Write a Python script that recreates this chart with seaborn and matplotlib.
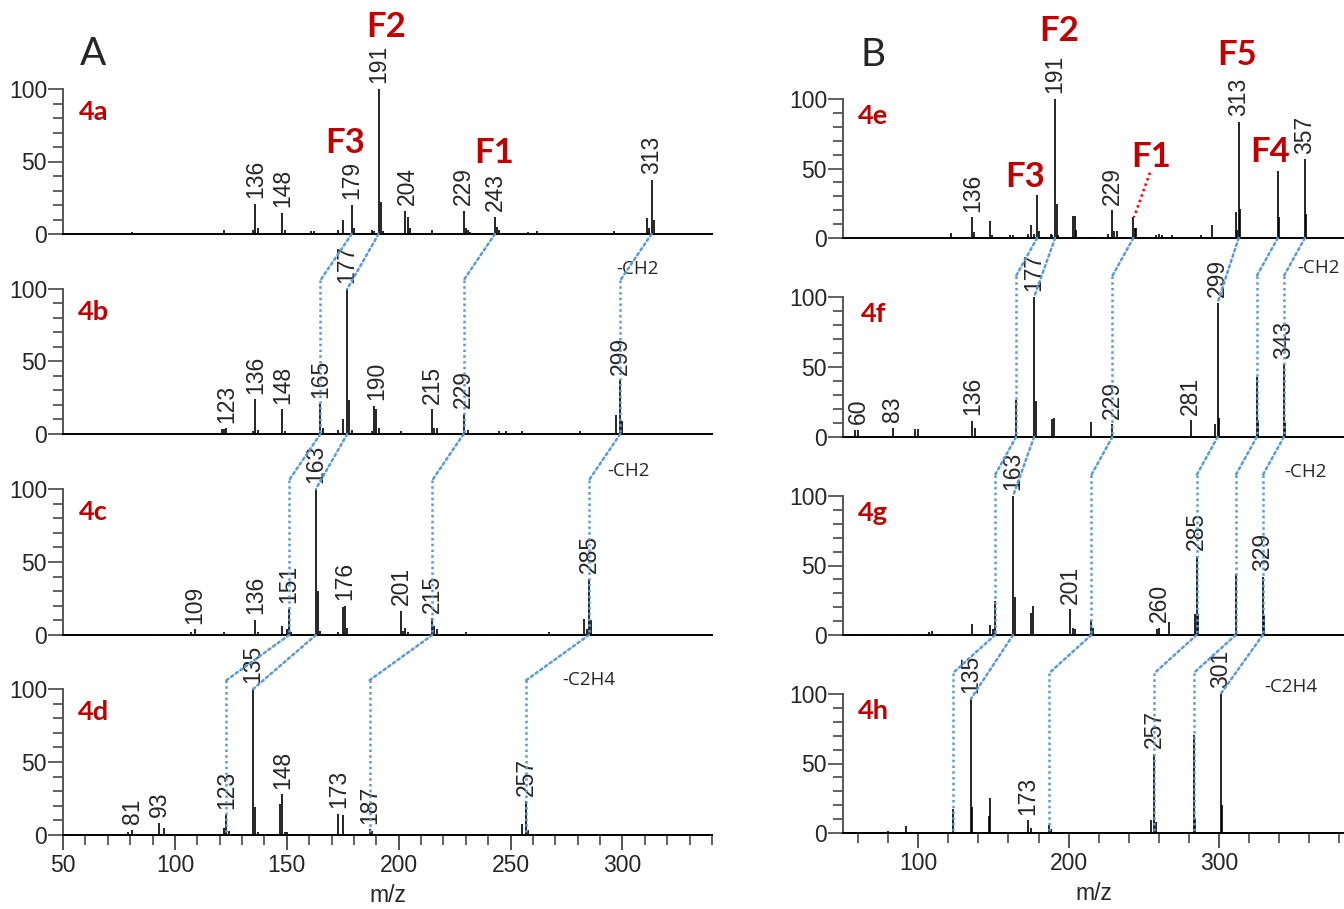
import matplotlib
matplotlib.use('Agg')
import matplotlib.pyplot as plt
from matplotlib.patches import ConnectionPatch
from matplotlib.ticker import MultipleLocator, FixedLocator
import seaborn as sns

# --- spectra (m/z, relative intensity) ---
mz_4a = [81, 107, 122, 135, 136, 137, 148, 149, 161, 162, 173, 175, 176, 179, 180, 188, 189, 191, 192, 193,
         203, 204, 205, 207, 215, 217, 219, 229, 230, 231, 232, 234, 243, 244, 245, 255, 258, 262, 269, 296,
         311, 312, 313, 314, 315]
int_4a = [1.5, 1, 2.5, 3, 21, 4, 14.5, 3, 2, 2, 3, 10, 1, 20, 4, 3, 2, 100, 22, 2,
          16, 12, 4, 1, 2.5, 1, 1, 16, 4, 3, 1.5, 1, 12, 5, 3, 1, 1.5, 2, 1, 2,
          11, 4, 37.5, 9.5, 1]

mz_4b = [81, 107, 121, 122, 123, 135, 136, 137, 148, 149, 161, 165, 166, 173, 175, 176, 177, 178, 179, 188,
         189, 190, 191, 201, 215, 216, 217, 229, 231, 244, 245, 248, 255, 281, 283, 297, 299, 300, 301]
int_4b = [1, 1, 3.5, 3.5, 4, 2, 24, 3, 17, 2, 1, 21, 4, 3, 10.5, 1, 100, 23.5, 3, 2,
          19.5, 17, 4, 2, 17, 4, 4, 14, 3, 1, 2, 2, 2, 2, 1, 13, 37, 9, 1]

mz_4c = [79, 92, 107, 109, 122, 136, 137, 148, 150, 151, 152, 163, 164, 165, 173, 175, 176, 177, 187, 191,
         201, 202, 203, 204, 215, 216, 217, 230, 241, 267, 269, 283, 284, 285, 286]
int_4c = [1, 1, 2, 4, 2, 10.5, 2, 6, 4, 18, 2, 100, 30, 3, 2, 19.5, 20, 5, 1, 1,
          16.5, 3, 5, 2, 11.5, 6, 4, 2, 1, 2, 1, 11, 4, 38.5, 10]

mz_4d = [55, 61, 76, 79, 81, 84, 89, 93, 95, 106, 107, 122, 123, 124, 135, 136, 137, 147, 148, 149,
         150, 173, 175, 176, 182, 187, 188, 202, 255, 257, 258]
int_4d = [1, 1, 1, 2, 3.5, 1, 1, 8.5, 5, 1, 1, 4.5, 14, 3, 100, 19.5, 2, 21, 28, 2,
          2, 14.5, 14, 1, 1, 4, 3, 1, 7.5, 23, 3.5]

mz_4e = [79, 122, 136, 137, 148, 149, 161, 163, 173, 175, 177, 179, 180, 188, 189, 191, 192, 193, 203, 204,
         205, 215, 216, 218, 226, 229, 230, 232, 243, 244, 245, 258, 260, 262, 269, 288, 295, 311, 312, 313,
         314, 339, 340, 357, 358]
int_4e = [1, 3.5, 15, 4, 12.5, 2, 2, 2, 3, 9, 3, 31, 5, 3, 2, 100, 24.5, 2, 16, 15.5,
          6, 1, 1, 1, 3, 20, 5, 5, 15, 7, 7, 2, 3, 2, 2, 2, 9, 18.5, 6, 83.5,
          21, 48, 15, 56.5, 17]

mz_4f = [58, 60, 83, 98, 100, 136, 138, 165, 177, 178, 189, 190, 215, 229, 281, 297, 299, 300, 325, 326,
         343, 344]
int_4f = [5, 5.2, 6.7, 6, 6, 11.4, 6.7, 26.5, 100, 26, 13, 13.5, 10.5, 9, 12, 9.3, 96, 13.8, 43, 12,
          52, 10]

mz_4g = [59, 81, 95, 102, 107, 109, 118, 136, 145, 148, 150, 151, 163, 164, 173, 175, 176, 189, 199, 201,
         203, 204, 215, 216, 234, 257, 259, 260, 267, 284, 285, 286, 311, 329, 330]
int_4g = [1, 1, 1, 1, 2, 3, 1, 8, 1, 7.5, 4, 24.5, 100, 27, 1, 16, 21, 1, 1, 18.5,
          5, 4, 11, 5, 1, 1, 4.5, 5, 9, 15, 57, 15, 44, 42, 14]

mz_4h = [58, 63, 68, 72, 77, 80, 86, 92, 97, 104, 111, 123, 135, 136, 147, 148, 173, 175, 187, 188,
         219, 239, 255, 257, 258, 283, 284, 301, 302]
int_4h = [1, 1, 1, 1, 1, 1.5, 1, 5, 1, 1, 1, 17, 96.5, 19, 12, 25.5, 9, 3.5, 6, 3,
          1, 1, 9, 57, 8, 70.5, 11, 100, 20]

# labelled peaks
lab_4a = [136, 148, 179, 191, 204, 229, 243, 313]
lab_4b = [123, 136, 148, 165, 177, 190, 215, 229, 299]
lab_4c = [109, 136, 151, 163, 176, 201, 215, 285]
lab_4d = [81, 93, 123, 135, 148, 173, 187, 257]
lab_4e = [136, 191, 229, 313, 357]
lab_4f = [60, 83, 136, 177, 229, 281, 299, 343]
lab_4g = [163, 201, 260, 285, 329]
lab_4h = [135, 173, 257, 301]

names_A = ['4a', '4b', '4c', '4d']
names_B = ['4e', '4f', '4g', '4h']
losses = ['-CH2', '-CH2', '-C2H4']

# fragment series followed down each column
chains_A = [[179, 165, 151, 123], [191, 177, 163, 135], [243, 229, 215, 187], [313, 299, 285, 257]]
chains_B = [[179, 165, 151, 123], [191, 177, 163, 135], [243, 229, 215, 187],
            [313, 299, 285, 257], [339, 325, 311, 283], [357, 343, 329, 301]]

frag_A = {'F2': (194.3, 143), 'F3': (176.2, 63), 'F1': (242.8, 56)}
frag_B = {'F2': (193.9, 149), 'F3': (170.8, 44), 'F1': (255, 58), 'F5': (311.6, 132), 'F4': (334.2, 62)}

RED = '#C00000'
BLUE = '#5B9BD5'
DOT = (0, (1, 1.3))

sns.set_theme(style='ticks')
plt.rcParams['font.family'] = ['Liberation Sans', 'DejaVu Sans']

W, H = 1344, 909
fig = plt.figure(figsize=(W / 100, H / 100), dpi=100)


def add_ax(left, right, top, bottom):
    return fig.add_axes([left / W, 1 - bottom / H, (right - left) / W, (bottom - top) / H])


def peak_top(mz, inten, m, win=1.5):
    vals = [v for x, v in zip(mz, inten) if abs(x - m) <= win]
    return max(vals) if vals else 0


def draw_spectrum(ax, mz, inten, labels, xlim, bottom_row):
    ax.vlines(mz, 0, inten, color='black', lw=1.2, zorder=3)
    for m in labels:
        ax.annotate(str(m), (m, peak_top(mz, inten, m)), xytext=(0, 4), textcoords='offset points',
                    rotation=90, ha='center', va='bottom', fontsize=16.5, annotation_clip=False)
    ax.set_xlim(*xlim)
    ax.set_ylim(0, 100)
    ax.patch.set_alpha(0)
    sns.despine(ax=ax)
    ax.spines['left'].set_bounds(0, 100)
    ax.spines['left'].set_color('#555555')
    ax.spines['left'].set_linewidth(1.4)
    ax.spines['bottom'].set_color('black')
    ax.spines['bottom'].set_linewidth(1.4)
    ax.set_yticks([0, 50, 100])
    ax.yaxis.set_minor_locator(MultipleLocator(10))
    ax.tick_params(axis='y', which='major', length=10.5, width=1.3, color='#555555', pad=1, labelsize=16.5)
    ax.tick_params(axis='y', which='minor', length=7, width=1.3, color='#555555')
    if not bottom_row:
        ax.tick_params(axis='x', which='both', bottom=False, labelbottom=False)
    ax.grid(False)


spectra_A = [(mz_4a, int_4a, lab_4a), (mz_4b, int_4b, lab_4b), (mz_4c, int_4c, lab_4c), (mz_4d, int_4d, lab_4d)]
spectra_B = [(mz_4e, int_4e, lab_4e), (mz_4f, int_4f, lab_4f), (mz_4g, int_4g, lab_4g), (mz_4h, int_4h, lab_4h)]

tops_A, bots_A = [89, 289, 489, 689], [234, 434, 635, 835]
tops_B, bots_B = [99, 297, 496, 694], [238, 437, 635, 833]

axes_A = [add_ax(63, 712, t, b) for t, b in zip(tops_A, bots_A)]
axes_B = [add_ax(843, 1344, t, b) for t, b in zip(tops_B, bots_B)]

for i, (ax, (mz, inten, lab)) in enumerate(zip(axes_A, spectra_A)):
    draw_spectrum(ax, mz, inten, lab, (50, 340), i == 3)
    ax.text(63.5, 84, names_A[i], color=RED, fontsize=19.5, fontweight='bold', family='Lato',
            ha='center', va='center')
for i, (ax, (mz, inten, lab)) in enumerate(zip(axes_B, spectra_B)):
    draw_spectrum(ax, mz, inten, lab, (50, 383), i == 3)
    ax.text(70.2, 88, names_B[i], color=RED, fontsize=19.5, fontweight='bold', family='Lato',
            ha='center', va='center')

# bottom x axes
axA, axB = axes_A[3], axes_B[3]
axA.xaxis.set_major_locator(MultipleLocator(50))
axA.xaxis.set_minor_locator(MultipleLocator(10))
axB.set_xticks([100, 200, 300])
axB.xaxis.set_minor_locator(FixedLocator(list(range(60, 384, 20))))
for ax in (axA, axB):
    ax.tick_params(axis='x', which='major', length=11, width=1.3, color='#444444', pad=3, labelsize=16.5)
    ax.tick_params(axis='x', which='minor', length=7.5, width=1.3, color='#555555')
    ax.set_xlabel('m/z', fontsize=16.5, labelpad=5)

# panel letters and fragment names
axes_A[0].text(63.6, 124, 'A', fontsize=28, family='Lato', ha='center', va='center')
axes_B[0].text(70.2, 132, 'B', fontsize=28, family='Lato', ha='center', va='center')
for ax, frags in ((axes_A[0], frag_A), (axes_B[0], frag_B)):
    for name, (x, y) in frags.items():
        ax.text(x, y, name, color=RED, fontsize=25, fontweight='bold', family='Lato',
                ha='center', va='center')

# neutral loss annotations between rows
for ax, (x, y), t in zip(axes_A[1:], [(297, 114), (293, 112), (273, 106)], losses):
    ax.text(x, y, t, fontsize=13.5, family='Open Sans', ha='left', va='center')
for ax, (x, y), t in zip(axes_B[1:], [(352, 121), (343, 117), (330, 105)], losses):
    ax.text(x, y, t, fontsize=13.5, family='Open Sans', ha='left', va='center')

# F1 pointer in 4e
axes_B[0].plot([254, 243.4], [47, 15], color='red', lw=1.8, ls=DOT, clip_on=False, zorder=6)


def draw_chains(axes, spectra, chains, kink):
    for chain in chains:
        for i in range(len(chain) - 1):
            m0, m1 = chain[i], chain[i + 1]
            mz1, int1, _ = spectra[i + 1]
            h1 = peak_top(mz1, int1, m1, win=0.5)
            top = h1 if h1 >= 90 else kink
            con = ConnectionPatch(xyA=(m0, 0), xyB=(m1, top), coordsA='data', coordsB='data',
                                  axesA=axes[i], axesB=axes[i + 1], color=BLUE, lw=1.8, linestyle=DOT)
            con.set_annotation_clip(False)
            fig.add_artist(con)
            if h1 < 90:
                axes[i + 1].plot([m1, m1], [top, 0], color=BLUE, lw=1.8, ls=DOT, clip_on=False, zorder=6)


draw_chains(axes_A, spectra_A, chains_A, 106)
draw_chains(axes_B, spectra_B, chains_B, 115)

fig.savefig('out.png', dpi=100)
